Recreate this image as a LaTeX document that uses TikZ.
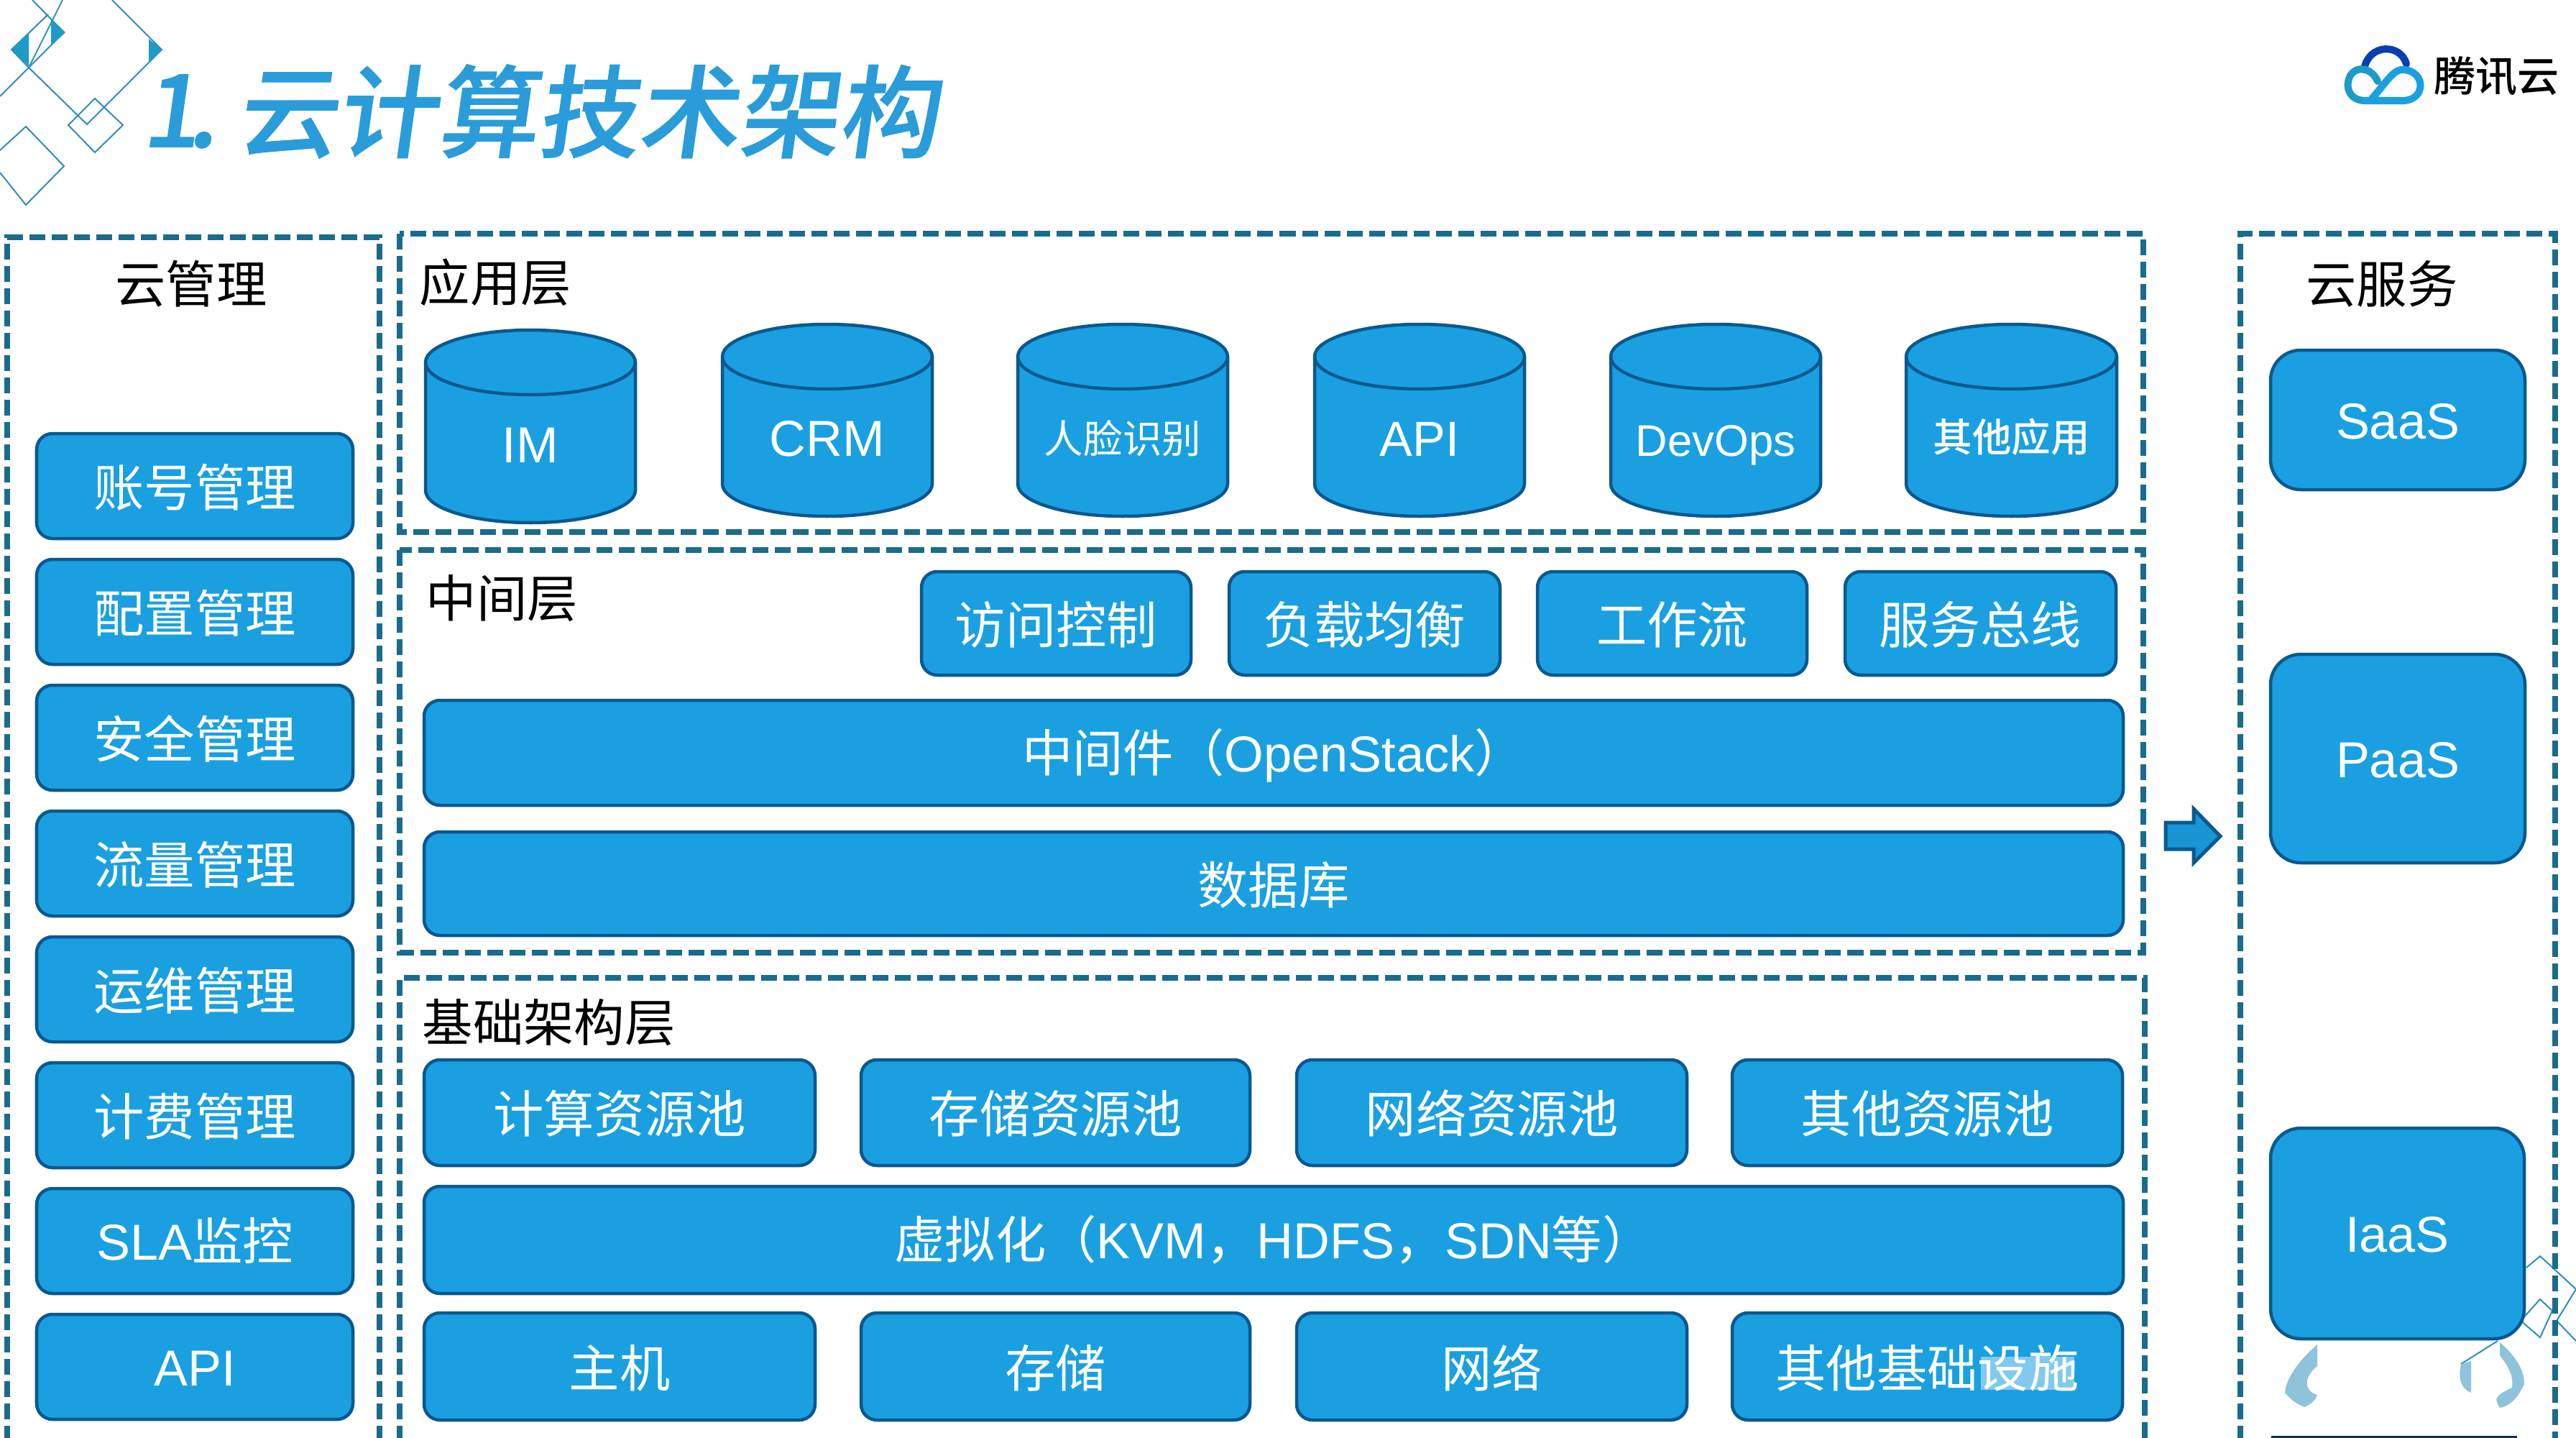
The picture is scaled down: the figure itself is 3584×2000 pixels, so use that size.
\documentclass[tikz,border=0pt]{standalone}
\usepackage{fontspec}
\setmainfont{Liberation Sans}
\newfontfamily\cjk{Noto Sans CJK SC}
\newfontfamily\cjkmed{Noto Sans CJK SC Medium}
\newfontfamily\titlefont[FakeSlant=0.14,FakeBold=0.8]{Noto Sans CJK SC Medium}
\newcommand{\zh}[1]{\raisebox{-0.7pt}{\cjk #1}}
\definecolor{boxfill}{HTML}{1AA0E0}
\definecolor{boxline}{HTML}{0B5890}
\definecolor{dashcol}{HTML}{1A6C8C}
\definecolor{titlecol}{HTML}{2A9CDA}
\definecolor{decor}{HTML}{2E8FB8}
\definecolor{decorfill}{HTML}{1E9AC8}
\definecolor{ghost}{HTML}{8FC3DC}
\tikzset{
  panel/.style={draw=dashcol,line width=0.075cm,dash pattern=on 0.22cm off 0.09cm},
  bluebox/.style={draw=boxline,fill=boxfill,line width=0.045cm,rounded corners=0.22cm,inner sep=0pt,
    text=white,font=\fontsize{20}{24}\selectfont,text height=17.2pt,text depth=2.4pt,align=center},
  bigbox/.style={bluebox,rounded corners=0.42cm},
  cylbody/.style={draw=boxline,fill=boxfill,line width=0.045cm},
  cyllabel/.style={text=white,inner sep=0pt,text height=17.2pt,text depth=2.4pt},
  heading/.style={text=black,inner sep=0pt,font=\cjk\fontsize{20}{24}\selectfont,text height=17.2pt,text depth=2.4pt},
  thin decor/.style={draw=decor,line width=0.02cm},
}
\newcommand{\pxbox}[7][bluebox]{%
  \node[#1,minimum width={(#5-#3)*0.01cm},minimum height={(#6-#4)*0.01cm}] (#2)
    at ({(#3+#5)/2},{(#4+#6)/2}) {#7};}
% name, left, right, top, bottom, label y, label
\newcommand{\pxcyl}[7]{%
  \path[cylbody] (#2,#4+45) -- (#2,#5-45)
    arc[start angle=180,end angle=0,x radius={(#3-#2)/2},y radius=45]
    -- (#3,#4+45)
    arc[start angle=0,end angle=-180,x radius={(#3-#2)/2},y radius=45] -- cycle;
  \draw[cylbody,fill=none] (#2,#4+45) arc[start angle=180,end angle=0,x radius={(#3-#2)/2},y radius=45];
  \node[cyllabel] (#1) at ({(#2+#3)/2},#6) {#7};}
\begin{document}
\begin{tikzpicture}[x=0.01cm,y=-0.01cm]
\useasboundingbox[fill=white] (0,0) rectangle (3584,2000);
% corner decoration, top left
\draw[thin decor] (45,0) -- (89,45) -- (40,94) -- (16,69) -- (67,20);
\draw[thin decor] (87,0) -- (40,94) -- (0,134);
\draw[thin decor] (156,0) -- (225,69) -- (121,173) -- (40,94);
\draw[thin decor] (132,137) -- (171,174) -- (132,212) -- (95,174) -- cycle;
\draw[thin decor] (0,209) -- (36,176) -- (89,231) -- (36,285) -- (0,240);
\fill[decorfill] (16,69) -- (40,46) -- (40,92) -- cycle;
\fill[decorfill] (71,26) -- (91,45) -- (71,64) -- cycle;
\fill[decorfill] (207,54) -- (225,69) -- (207,87) -- cycle;
% corner decoration, bottom right
\draw[thin decor] (3515,1763) -- (3534,1747) -- (3584,1793);
\draw[thin decor] (3584,1793) -- (3557,1837) -- (3584,1865);
\draw[thin decor] (3534,1807) -- (3551,1823) -- (3534,1860) -- (3507,1837) -- cycle;
\draw[thin decor] (3475,1865) -- (3424,1897);
\fill[ghost] (3224,1870) .. controls (3195,1895) and (3180,1920) .. (3179,1937) .. controls (3190,1950) and (3200,1955) .. (3207,1957) .. controls (3220,1950) and (3222,1945) .. (3224,1940) .. controls (3205,1935) and (3205,1915) .. (3224,1900) -- cycle;
\fill[ghost] (3478,1867) .. controls (3505,1890) and (3512,1910) .. (3512,1925) .. controls (3500,1950) and (3490,1955) .. (3478,1958) .. controls (3470,1945) and (3470,1942) .. (3495,1930) .. controls (3498,1910) and (3485,1895) .. (3478,1885) -- cycle;
\fill[ghost] (3424,1897) .. controls (3420,1915) and (3422,1930) .. (3438,1937) -- (3438,1893) -- cycle;
% title
\node[anchor=west,inner sep=0pt,text=titlecol,font=\titlefont\fontsize{40}{44}\selectfont] (titlenum) at (196,155) {1\kern-0.12em.};
\node[anchor=west,inner sep=0pt,text=titlecol,font=\titlefont\fontsize{39.7}{44}\selectfont] (title) at (328,155) {云计算技术架构};
% logo
\begin{scope}[line cap=round,line width=0.1cm]
\draw[draw=boxline!70!blue] (3289,97) .. controls (3295,60) and (3340,60) .. (3348,89);
\draw[draw=decorfill] (3308,113) .. controls (3300,95) and (3280,90) .. (3270,105) .. controls (3262,120) and (3268,140) .. (3291,140);
\draw[draw=boxfill] (3291,140) -- (3345,140) .. controls (3375,138) and (3375,100) .. (3345,97) .. controls (3330,95) and (3320,115) .. (3300,137);
\end{scope}
\node[inner sep=0pt,font=\cjkmed\fontsize{16.5}{20}\selectfont] (brand) at (3473,106) {腾讯云};
% dashed panels
\draw[panel] (10,2005) -- (10,330) -- (528,330) -- (528,2005);
\draw[panel] (556,325) rectangle (2982,740);
\draw[panel] (556,765) rectangle (2982,1325);
\draw[panel] (556,2005) -- (556,1360) -- (2984,1360) -- (2984,2005);
\draw[panel] (3117,2005) -- (3117,325) -- (3555,325) -- (3555,2005);
% headings
\node[heading] (hmgmt) at (266,395) {云管理};
\node[heading,anchor=west] (happ) at (583,393) {应用层};
\node[heading,anchor=west] (hmid) at (592,832) {中间层};
\node[heading,anchor=west] (hinf) at (587,1422) {基础架构层};
\node[heading] (hsvc) at (3314,395) {云服务};
% management column
\pxbox{m1}{51}{603}{491}{749}{\zh{账号管理}}
\pxbox{m2}{51}{778}{491}{924}{\zh{配置管理}}
\pxbox{m3}{51}{953}{491}{1099}{\zh{安全管理}}
\pxbox{m4}{51}{1128}{491}{1274}{\zh{流量管理}}
\pxbox{m5}{51}{1303}{491}{1449}{\zh{运维管理}}
\pxbox{m6}{51}{1478}{491}{1624}{\zh{计费管理}}
\pxbox{m7}{51}{1653}{491}{1799}{SLA{\cjk 监控}}
\pxbox{m8}{51}{1828}{491}{1974}{API}
% application cylinders
\pxcyl{c1}{592}{884}{459}{727}{617}{\fontsize{20}{24}\selectfont IM}
\pxcyl{c2}{1005}{1297}{451}{718}{608}{\fontsize{20}{24}\selectfont CRM}
\pxcyl{c3}{1416}{1708}{451}{718}{604}{\cjk\fontsize{15.5}{20}\selectfont 人脸识别}
\pxcyl{c4}{1829}{2121}{451}{718}{608}{\fontsize{19.5}{24}\selectfont API}
\pxcyl{c5}{2241}{2533}{451}{718}{608}{\fontsize{17.5}{22}\selectfont DevOps}
\pxcyl{c6}{2652}{2945}{451}{718}{602}{\cjkmed\fontsize{15.5}{20}\selectfont 其他应用}
% middle layer
\pxbox{a1}{1282}{795}{1657}{939}{\zh{访问控制}}
\pxbox{a2}{1710}{795}{2087}{939}{\zh{负载均衡}}
\pxbox{a3}{2139}{795}{2514}{939}{\zh{工作流}}
\pxbox{a4}{2567}{795}{2944}{939}{\zh{服务总线}}
\pxbox{mw}{590}{974}{2954}{1120}{{\cjk 中间件（}OpenStack{\cjk ）}}
\pxbox{db}{590}{1157}{2954}{1301}{\zh{数据库}}
% infrastructure layer
\pxbox{r1}{590}{1474}{1134}{1621}{\zh{计算资源池}}
\pxbox{r2}{1198}{1474}{1739}{1621}{\zh{存储资源池}}
\pxbox{r3}{1804}{1474}{2347}{1621}{\zh{网络资源池}}
\pxbox{r4}{2410}{1474}{2953}{1621}{\zh{其他资源池}}
\pxbox{vz}{590}{1650}{2954}{1799}{{\cjk 虚拟化（}KVM{\cjk ，}HDFS{\cjk ，}SDN{\cjk 等）}}
\pxbox{h1}{590}{1826}{1134}{1975}{\zh{主机}}
\pxbox{h2}{1198}{1826}{1739}{1975}{\zh{存储}}
\pxbox{h3}{1804}{1826}{2347}{1975}{\zh{网络}}
\pxbox{h4}{2410}{1826}{2953}{1975}{\zh{其他基础设施}}
\fill[white,opacity=0.45] (2756,1887) rectangle (2886,1933);
% services
\pxbox[bigbox]{s1}{3159}{487}{3513}{681}{SaaS}
\pxbox[bigbox]{s2}{3159}{910}{3513}{1200}{PaaS}
\pxbox[bigbox]{s3}{3159}{1569}{3512}{1862}{IaaS}
\draw[boxline!60!black,line width=0.03cm] (3160,1998) -- (3502,1998);
% arrow
\draw[draw=boxline,fill=boxfill!85!boxline,line width=0.05cm,line join=miter] (3013,1144) -- (3052,1144) -- (3052,1125) -- (3089,1163) -- (3052,1200) -- (3052,1181) -- (3013,1181) -- cycle;
\end{tikzpicture}
\end{document}
